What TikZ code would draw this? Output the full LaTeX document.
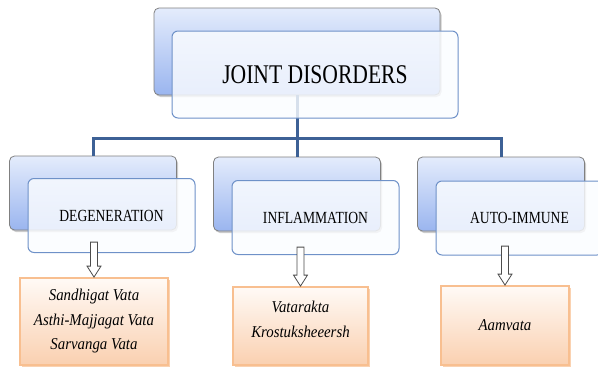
\documentclass[tikz,border=0pt]{standalone}
\usepackage{fontspec}
\newfontfamily\boxfont{Liberation Serif}[FakeStretch=0.8]
\newfontfamily\listfont{Liberation Serif}[FakeStretch=0.9]
\usepackage{xcolor}
\usetikzlibrary{arrows.meta, positioning, shadows, calc}

\definecolor{backtop}{HTML}{E4ECFC}
\definecolor{backbot}{HTML}{9AB5EF}
\definecolor{frontfill}{HTML}{FAFCFF}
\definecolor{frontline}{HTML}{6E91C8}
\definecolor{linkblue}{HTML}{3D6196}
\definecolor{subtop}{HTML}{FFFAF6}
\definecolor{subbot}{HTML}{FAD0B0}
\definecolor{subline}{HTML}{F8BF90}

\begin{document}
\begin{tikzpicture}[x=1pt, y=-1pt, >=Stealth,
        backbox/.style={rectangle, draw=black!50, line width=0.8pt, rounded corners=5pt, top color=backtop, bottom color=backbot, minimum width=167pt, minimum height=74pt, drop shadow={shadow xshift=1.5pt, shadow yshift=-2pt, opacity=0.4}},
        frontbox/.style={rectangle, draw=frontline, line width=1pt, rounded corners=6pt, fill=frontfill, fill opacity=0.82, text opacity=1, minimum width=167pt, minimum height=74pt, font=\boxfont\fontsize{17}{20}\selectfont},
        subbox/.style={rectangle, draw=subline, line width=1.8pt, top color=subtop, bottom color=subbot, align=center, font=\listfont\itshape\fontsize{16.5}{24.5}\selectfont, drop shadow={shadow xshift=2pt, shadow yshift=-1.5pt, fill=subline, opacity=0.7}},
        link/.style={draw=linkblue, line width=3pt},
        hollow/.style={draw=black!70, line width=0.8pt, fill=white, to path={
            ($(\tikztostart)+(-3.5,0)$) -- ($(\tikztotarget)+(-3.5,-11)$) -- ($(\tikztotarget)+(-7,-11)$) -- (\tikztotarget)
            -- ($(\tikztotarget)+(7,-11)$) -- ($(\tikztotarget)+(3.5,-11)$) -- ($(\tikztostart)+(3.5,0)$) -- cycle}}]

    \useasboundingbox (0,0) rectangle (598,367);

    % back boxes
    \node (top) [backbox, minimum width=286pt, minimum height=87pt] at (297,51.5) {};
    \node (deg) [backbox] at (93,193) {};
    \node (infl) [backbox] at (297,194) {};
    \node (auto) [backbox] at (501,194) {};

    % tree lines
    \coordinate (hub) at (297,138);
    \draw[link] (top.south) -- (hub);
    \draw[link] (hub) -| (deg.north);
    \draw[link] (hub) -- (infl.north);
    \draw[link] (hub) -| (auto.north);

    % front boxes
    \node (topf) [frontbox, minimum width=286pt, minimum height=87pt, font=\boxfont\fontsize{27}{30}\selectfont, at=(top.center), xshift=18pt, yshift=-23pt] {JOINT DISORDERS};
    \node (degf) [frontbox, at=(deg.center), xshift=18.5pt, yshift=-22.5pt] {DEGENERATION};
    \node (inflf) [frontbox, at=(infl.center), xshift=18.5pt, yshift=-23.5pt] {INFLAMMATION};
    \node (autof) [frontbox, at=(auto.center), xshift=18.5pt, yshift=-24pt] {AUTO-IMMUNE};

    % sub lists
    \node (degsub) [subbox, minimum width=148pt, minimum height=87pt] at (94,321.5) {Sandhigat Vata\\Asthi-Majjagat Vata\\Sarvanga Vata};
    \node (inflsub) [subbox, minimum width=135pt, minimum height=78pt] at (300.5,326) {Vatarakta\\Krostuksheeersh\\[-11.5pt]};
    \node (autosub) [subbox, minimum width=128pt, minimum height=79pt] at (505,325.5) {Aamvata};

    \coordinate (degtail) at ([yshift=35pt]degsub.north);
    \coordinate (infltail) at ([yshift=39pt]inflsub.north);
    \coordinate (autotail) at ([yshift=39pt]autosub.north);

    \draw[hollow] (degtail) to (degsub.north);
    \draw[hollow] (infltail) to (inflsub.north);
    \draw[hollow] (autotail) to (autosub.north);
\end{tikzpicture}
\end{document}
